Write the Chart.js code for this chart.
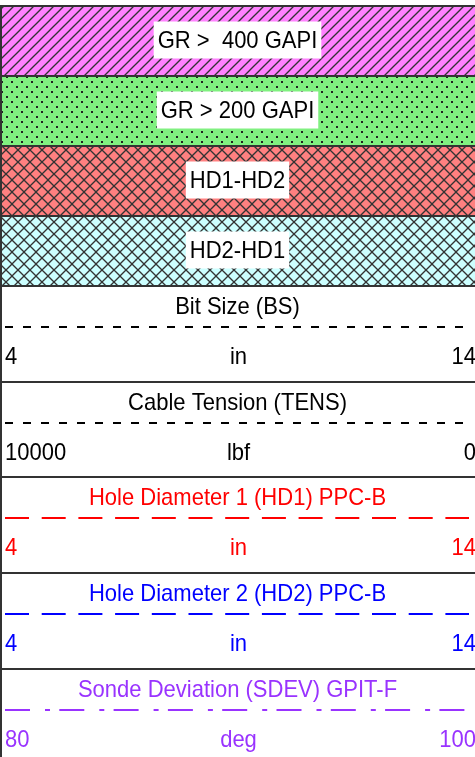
<!DOCTYPE html>
<html>
<head>
<meta charset="utf-8">
<script src="https://cdn.jsdelivr.net/npm/chart.js@4.4.0/dist/chart.umd.min.js"></script>
<style>
  html, body { margin: 0; padding: 0; background: #fff; }
  #wrap { width: 475px; height: 757px; position: relative; }
</style>
</head>
<body>
<div id="wrap"><canvas id="logHeader"></canvas></div>
<script>
// fill (shading) tracks
const fillLabels = ['GR >  400 GAPI', 'GR > 200 GAPI', 'HD1-HD2', 'HD2-HD1'];
const fillColors = ['#ff80ff', '#80f080', '#ff8080', '#ccffff'];
const fillPatterns = ['hatch', 'dots', 'cross', 'cross'];

// curve tracks
const curveTitles = ['Bit Size (BS)', 'Cable Tension (TENS)', 'Hole Diameter 1 (HD1) PPC-B',
                     'Hole Diameter 2 (HD2) PPC-B', 'Sonde Deviation (SDEV) GPIT-F'];
const curveUnits = ['in', 'lbf', 'in', 'in', 'deg'];
const scaleLeft = ['4', '10000', '4', '4', '80'];
const scaleRight = ['14', '0', '14', '14', '100'];
const curveColors = ['#000000', '#000000', '#ff0000', '#0000ff', '#9933ff'];
const curveDash = [[8, 10], [8, 10], [24, 12.7], [24, 12.7], [25, 15, 5, 9.3]];

// layout: height of every row in pixels
const rowHeights = [70, 70, 70, 70, 96, 95, 96, 96, 95];
const FONT = '24px "Liberation Sans", Arial, sans-serif';
const SQUEEZE = 0.917; // the header font is a little condensed

function makePattern(kind, color) {
  const size = kind === 'cross' ? 12 : 10;
  const c = document.createElement('canvas');
  c.width = size; c.height = size;
  const g = c.getContext('2d');
  g.fillStyle = color;
  g.fillRect(0, 0, size, size);
  g.strokeStyle = '#333';
  g.fillStyle = '#222';
  g.lineWidth = 1.3;
  if (kind === 'hatch') {
    [[-5, 5, 5, -5], [0, 10, 10, 0], [5, 15, 15, 5]].forEach(s => {
      g.beginPath(); g.moveTo(s[0], s[1]); g.lineTo(s[2], s[3]); g.stroke();
    });
  } else if (kind === 'dots') {
    g.fillRect(1, 1, 2, 2);
    g.fillRect(6, 6, 2, 2);
  } else {
    [[0, 0, size, size], [size, 0, 0, size]].forEach(s => {
      g.beginPath(); g.moveTo(s[0], s[1]); g.lineTo(s[2], s[3]); g.stroke();
    });
  }
  return g.createPattern(c, 'repeat');
}

const allLabels = fillLabels.concat(curveTitles);
const datasets = allLabels.map((name, i) => ({
  label: name,
  data: [rowHeights[i]],
  backgroundColor: i < fillLabels.length ? makePattern(fillPatterns[i], fillColors[i]) : '#ffffff',
  borderWidth: 0,
  barPercentage: 1,
  categoryPercentage: 1
}));

function squeezedText(ctx, text, x, y, align) {
  ctx.save();
  ctx.translate(x, y);
  ctx.scale(SQUEEZE, 1);
  ctx.textAlign = align;
  ctx.fillText(text, 0, 0);
  ctx.restore();
}

const headerText = {
  id: 'headerText',
  afterDatasetsDraw(chart) {
    const ctx = chart.ctx;
    const area = chart.chartArea;
    const cx = (area.left + area.right) / 2;
    ctx.save();
    ctx.font = FONT;
    ctx.textBaseline = 'middle';
    chart.data.datasets.forEach((ds, i) => {
      const el = chart.getDatasetMeta(i).data[0];
      const top = Math.min(el.y, el.base);
      const bottom = Math.max(el.y, el.base);
      if (i < fillLabels.length) {
        const mid = (top + bottom) / 2;
        const w = ctx.measureText(fillLabels[i]).width * SQUEEZE + 8;
        ctx.fillStyle = '#fff';
        ctx.fillRect(cx - w / 2, mid - 18.5, w, 37);
        ctx.fillStyle = '#000';
        squeezedText(ctx, fillLabels[i], cx, mid + 1, 'center');
      } else {
        const k = i - fillLabels.length;
        ctx.fillStyle = curveColors[k];
        ctx.strokeStyle = curveColors[k];
        squeezedText(ctx, curveTitles[k], cx, top + 22, 'center');
        squeezedText(ctx, curveUnits[k], cx + 1, top + 72, 'center');
        squeezedText(ctx, scaleLeft[k], area.left + 5, top + 72, 'left');
        squeezedText(ctx, scaleRight[k], area.right + 1, top + 72, 'right');
        ctx.lineWidth = 2;
        ctx.setLineDash(curveDash[k]);
        ctx.beginPath();
        ctx.moveTo(area.left + 5, top + 42);
        ctx.lineTo(area.right - 6, top + 42);
        ctx.stroke();
        ctx.setLineDash([]);
      }
      // row separator
      ctx.strokeStyle = '#333';
      ctx.lineWidth = 2;
      ctx.beginPath();
      ctx.moveTo(area.left, top + 1);
      ctx.lineTo(area.right, top + 1);
      ctx.stroke();
    });
    // left border
    ctx.beginPath();
    ctx.moveTo(area.left + 1, area.top);
    ctx.lineTo(area.left + 1, area.bottom);
    ctx.stroke();
    ctx.restore();
  }
};

new Chart(document.getElementById('logHeader'), {
  type: 'bar',
  data: { labels: ['header'], datasets: datasets },
  options: {
    responsive: true,
    maintainAspectRatio: false,
    animation: false,
    layout: { padding: { top: 5, left: 0, right: 0, bottom: 0 } },
    plugins: { legend: { display: false }, tooltip: { enabled: false } },
    scales: {
      x: { stacked: true, display: false },
      y: { stacked: true, display: false, reverse: true, min: 0, max: 752 }
    }
  },
  plugins: [headerText]
});
</script>
</body>
</html>
